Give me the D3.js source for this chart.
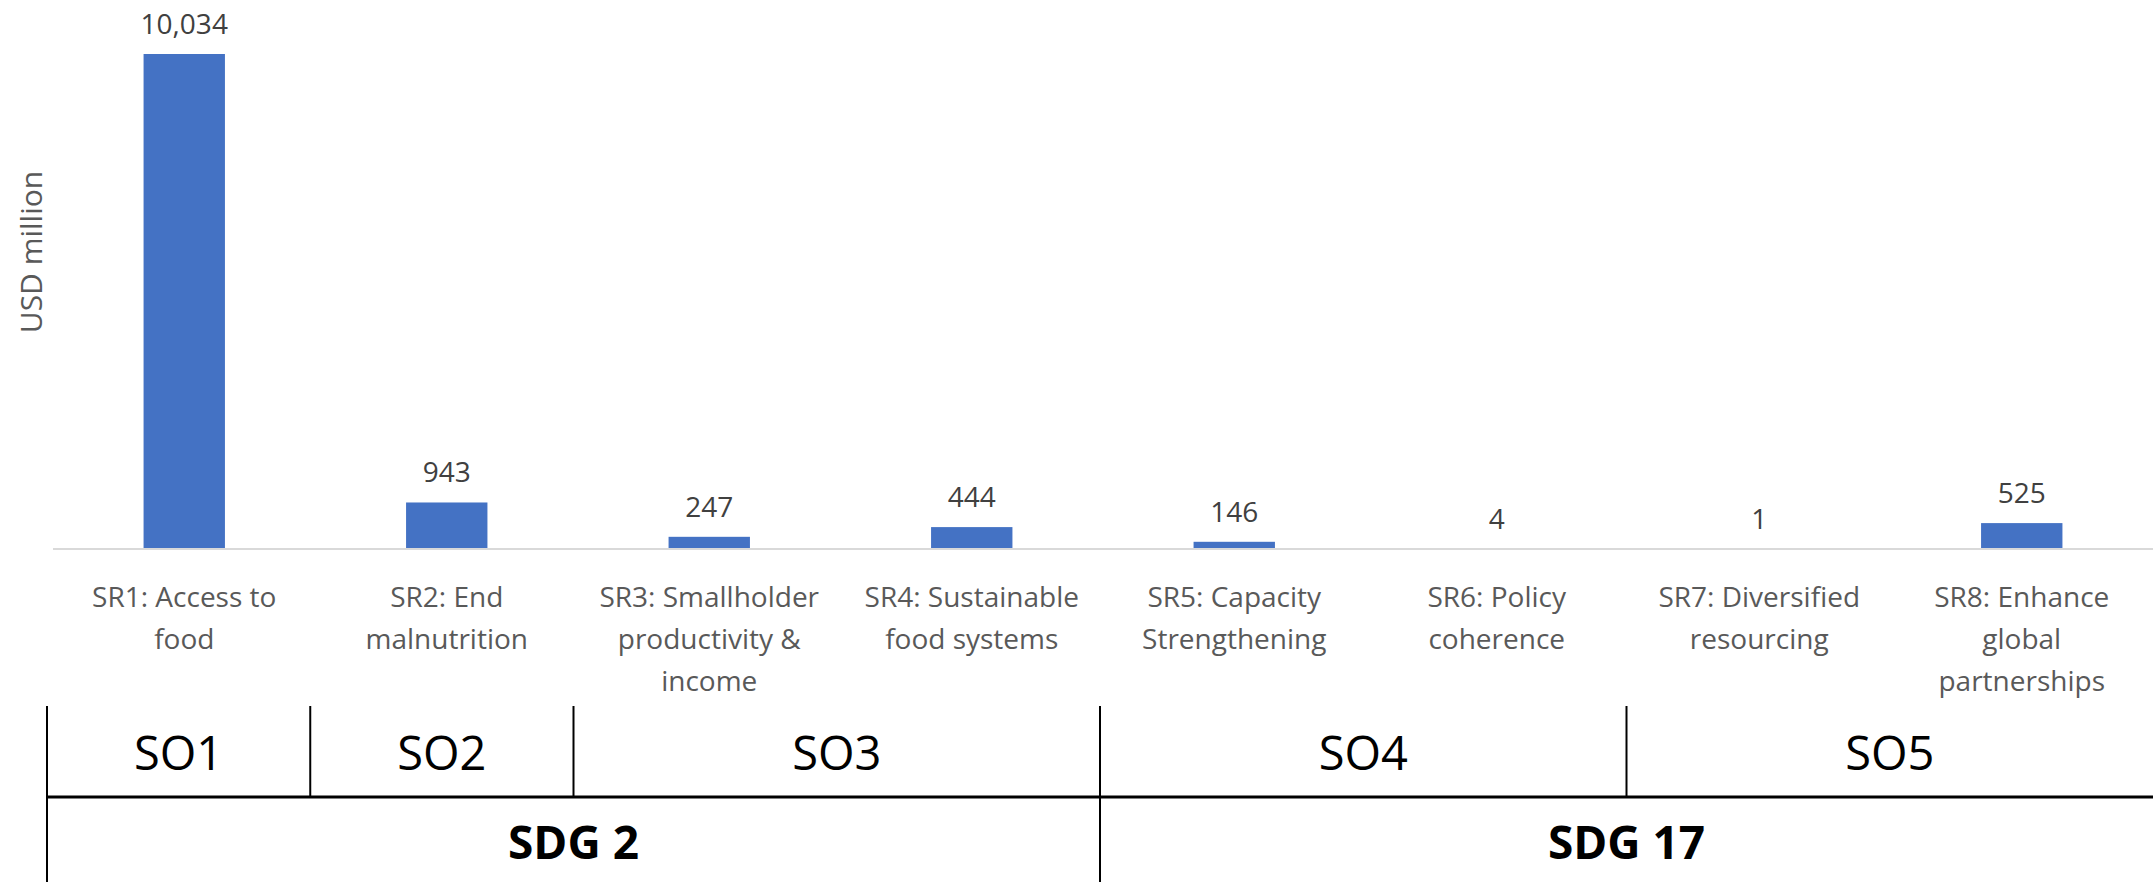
<!DOCTYPE html>
<html>
<head>
<meta charset="utf-8">
<script src="https://cdn.jsdelivr.net/npm/d3@7"></script>
<style>
  body { margin: 0; background: #fff; }
  svg { display: block; font-family: "Segoe UI", "Open Sans", sans-serif; }
</style>
</head>
<body>
<div id="chart"></div>
<script>
// strategic results, each label split into its wrapped lines
const categories = [
  ['SR1: Access to', 'food'],
  ['SR2: End', 'malnutrition'],
  ['SR3: Smallholder', 'productivity &', 'income'],
  ['SR4: Sustainable', 'food systems'],
  ['SR5: Capacity', 'Strengthening'],
  ['SR6: Policy', 'coherence'],
  ['SR7: Diversified', 'resourcing'],
  ['SR8: Enhance', 'global', 'partnerships']
];
const values = [10034, 943, 247, 444, 146, 4, 1, 525];

// table rows under the axis: label + how many categories it spans
const objectives = ['SO1', 'SO2', 'SO3', 'SO4', 'SO5'];
const objectiveSpans = [1, 1, 2, 2, 2];
const goals = ['SDG 2', 'SDG 17'];
const goalSpans = [4, 4];

const yTitle = 'USD million';

const width = 2153, height = 882;
const axisY = 549;

const svg = d3.select('#chart').append('svg')
  .attr('width', width)
  .attr('height', height);

let x = d3.scaleBand()
  .domain(d3.range(categories.length))
  .range([53, width])
  .paddingInner(0.69)
  .paddingOuter(0.345);

let y = d3.scaleLinear()
  .domain([0, d3.max(values)])
  .range([axisY, 54]);

// bars
svg.append('g')
  .selectAll('rect')
  .data(values)
  .enter()
  .append('rect')
  .attr('x', (d, i) => x(i))
  .attr('y', d => y(d))
  .attr('width', x.bandwidth())
  .attr('height', d => axisY - y(d))
  .attr('fill', '#4472C4');

// value labels
svg.append('g')
  .selectAll('text')
  .data(values)
  .enter()
  .append('text')
  .attr('x', (d, i) => x(i) + x.bandwidth() / 2)
  .attr('y', d => y(d) - 20)
  .attr('text-anchor', 'middle')
  .attr('font-size', 28)
  .attr('fill', '#404040')
  .text(d => d3.format(',')(d));

// baseline
svg.append('line')
  .attr('x1', x.range()[0])
  .attr('x2', x.range()[1])
  .attr('y1', axisY)
  .attr('y2', axisY)
  .attr('stroke', '#d9d9d9')
  .attr('stroke-width', 2);

// category labels
let cats = svg.append('g')
  .selectAll('text')
  .data(categories)
  .enter()
  .append('text')
  .attr('text-anchor', 'middle')
  .attr('font-size', 28)
  .attr('fill', '#595959');

cats.selectAll('tspan')
  .data((d, i) => d.map(line => ({ line: line, i: i })))
  .enter()
  .append('tspan')
  .attr('x', d => x(d.i) + x.bandwidth() / 2)
  .attr('y', (d, j) => axisY + 58 + j * 42)
  .text(d => d.line);

// y axis title
svg.append('text')
  .attr('transform', 'translate(42, 252) rotate(-90)')
  .attr('text-anchor', 'middle')
  .attr('font-size', 30)
  .attr('fill', '#595959')
  .text(yTitle);

// table below the chart
let tx = d3.scaleLinear().domain([0, categories.length]).range([47, width]);
const rowTop = 706, rowMid = 797, rowBottom = height;

function spanEdges(spans) {
  let edges = [0];
  spans.forEach(s => edges.push(edges[edges.length - 1] + s));
  return edges;
}
let soEdges = spanEdges(objectiveSpans);
let sdgEdges = spanEdges(goalSpans);

let table = svg.append('g').attr('stroke', '#000');

table.selectAll('line.so')
  .data(soEdges.slice(0, -1))
  .enter()
  .append('line')
  .attr('class', 'so')
  .attr('x1', d => tx(d))
  .attr('x2', d => tx(d))
  .attr('y1', rowTop)
  .attr('y2', rowMid)
  .attr('stroke-width', 2);

table.selectAll('line.sdg')
  .data(sdgEdges.slice(0, -1))
  .enter()
  .append('line')
  .attr('class', 'sdg')
  .attr('x1', d => tx(d))
  .attr('x2', d => tx(d))
  .attr('y1', rowMid)
  .attr('y2', rowBottom)
  .attr('stroke-width', 2);

table.append('line')
  .attr('x1', tx(0))
  .attr('x2', tx(categories.length))
  .attr('y1', rowMid)
  .attr('y2', rowMid)
  .attr('stroke-width', 3);

svg.append('g')
  .selectAll('text')
  .data(objectives)
  .enter()
  .append('text')
  .attr('x', (d, i) => (tx(soEdges[i]) + tx(soEdges[i + 1])) / 2)
  .attr('y', 770)
  .attr('text-anchor', 'middle')
  .attr('font-size', 47)
  .attr('fill', '#000')
  .text(d => d);

svg.append('g')
  .selectAll('text')
  .data(goals)
  .enter()
  .append('text')
  .attr('x', (d, i) => (tx(sdgEdges[i]) + tx(sdgEdges[i + 1])) / 2)
  .attr('y', 859)
  .attr('text-anchor', 'middle')
  .attr('font-size', 46)
  .attr('font-weight', 'bold')
  .attr('fill', '#000')
  .text(d => d);
</script>
</body>
</html>
